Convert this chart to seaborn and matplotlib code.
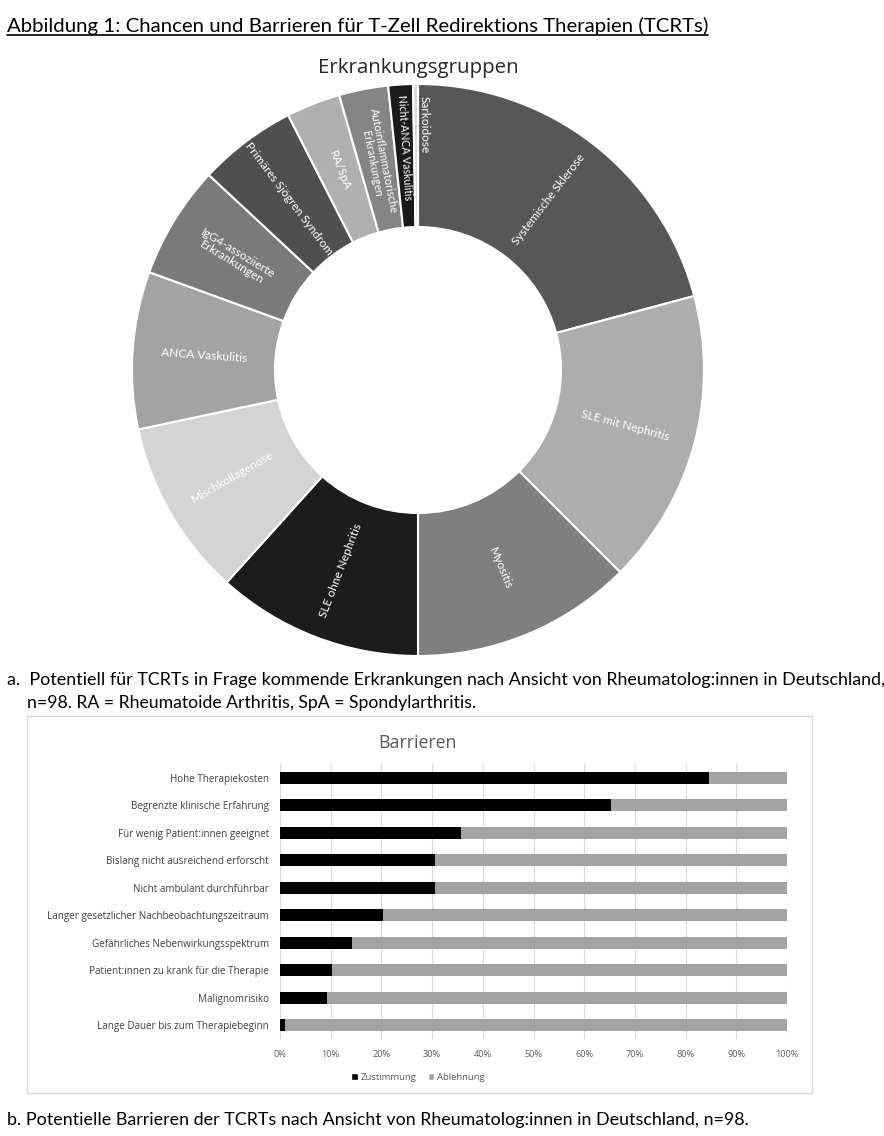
import numpy as np
import pandas as pd
import matplotlib
matplotlib.use("Agg")
import matplotlib.pyplot as plt
import seaborn as sns
from matplotlib.patches import Rectangle, Patch
from matplotlib.lines import Line2D

# ---------------- data ----------------
diseases = ["Systemische Sklerose", "SLE mit Nephritis", "Myositis", "SLE ohne Nephritis",
            "Mischkollagenose", "ANCA Vaskulitis", "IgG4-assoziierte\nErkrankungen",
            "Primäres Sjögren Syndrom", "RA/SpA", "Autoinflammatorische\nErkrankungen",
            "Nicht-ANCA Vaskulitis", "Sarkoidose"]
disease_values = [75, 60, 45, 42, 36, 32, 23, 20, 11, 10, 5, 1]
disease_colors = ["#575757", "#adadad", "#7f7f7f", "#1c1c1c", "#d4d4d4", "#a3a3a3",
                  "#7a7a7a", "#4f4f4f", "#b0b0b0", "#858585", "#1a1a1a", "#d9d9d9"]

barriers = ["Hohe Therapiekosten", "Begrenzte klinische Erfahrung",
            "Für wenig Patient:innen geeignet", "Bislang nicht ausreichend erforscht",
            "Nicht ambulant durchführbar", "Langer gesetzlicher Nachbeobachtungszeitraum",
            "Gefährliches Nebenwirkungsspektrum", "Patient:innen zu krank für die Therapie",
            "Malignomrisiko", "Lange Dauer bis zum Therapiebeginn"]
zustimmung_n = [83, 64, 35, 30, 30, 20, 14, 10, 9, 1]
n_total = 98
xtick_vals = [0, 10, 20, 30, 40, 50, 60, 70, 80, 90, 100]

# ---------------- figure ----------------
W, H = 884, 1136
sns.set_theme(style="white")
plt.rcParams['font.family'] = ['Lato', 'DejaVu Sans']
fig = plt.figure(figsize=(W / 100, H / 100), dpi=100)
fig.patch.set_facecolor("white")
renderer = fig.canvas.get_renderer()


def fx(x):
    return x / W


def fy(y):
    return 1 - y / H


def fit_text(x, y, s, target_w, family, color="black", ha="left", va="baseline", base=12, **kw):
    t = fig.text(fx(x), fy(y), s, fontsize=base, family=family, color=color, ha=ha, va=va, **kw)
    w = t.get_window_extent(renderer).width
    t.set_fontsize(base * target_w / w)
    return t


cap_font = ["Lato", "DejaVu Sans"]
chart_font = ["Open Sans", "DejaVu Sans"]
label_font = ["Lato", "DejaVu Sans"]

# title
t = fit_text(7, 32, "Abbildung 1: Chancen und Barrieren für T-Zell Redirektions Therapien (TCRTs)",
             700, cap_font)
bb = t.get_window_extent(renderer)
fig.add_artist(Line2D([bb.x0 / W, bb.x1 / W], [fy(35), fy(35)], color="black", lw=1.2,
                      transform=fig.transFigure))

# ---------------- donut ----------------
cx, cy, R = 418, 370, 286
ax1 = fig.add_axes([fx(cx - R), fy(cy + R), 2 * R / W, 2 * R / H])
ax1.pie(disease_values, colors=disease_colors, startangle=90, counterclock=False,
        wedgeprops=dict(width=0.5, edgecolor="white", linewidth=1.5), radius=1)
ax1.set_xlim(-1, 1)
ax1.set_ylim(-1, 1)
ax1.set_aspect("equal")
ax1.axis("off")

total = sum(disease_values)
cum = np.cumsum([0] + disease_values)
label_r = {"Nicht-ANCA Vaskulitis": 0.78, "Autoinflammatorische\nErkrankungen": 0.74,
           "Sarkoidose": 0.86}
label_fs = {"Nicht-ANCA Vaskulitis": 7.6, "Autoinflammatorische\nErkrankungen": 7.8}
for i, lab in enumerate(diseases):
    theta = (cum[i] + cum[i + 1]) / 2 / total * 360
    r = label_r.get(lab, 0.75)
    a = 90 - theta
    rot = ((a + 90) % 180) - 90
    if lab == "Sarkoidose":
        a = 90 - 1.4
    x = r * np.cos(np.radians(a))
    y = r * np.sin(np.radians(a))
    ax1.text(x, y, lab, rotation=rot, rotation_mode="anchor", ha="center", va="center",
             color="white", fontsize=label_fs.get(lab, 8.6), family=label_font,
             linespacing=1.05)

fit_text(cx, 73, "Erkrankungsgruppen", 200, chart_font, color="#262626", ha="center")

# captions a
fit_text(7, 685, "a.  Potentiell für TCRTs in Frage kommende Erkrankungen nach Ansicht von "
                 "Rheumatolog:innen in Deutschland,", 877, cap_font)
fit_text(27, 708, "n=98. RA = Rheumatoide Arthritis, SpA = Spondylarthritis.", 447, cap_font)

# ---------------- bar chart ----------------
fig.add_artist(Rectangle((fx(27), fy(1093)), (812 - 27) / W, (1093 - 716) / H,
                         transform=fig.transFigure, fill=False, edgecolor="#d9d9d9", lw=1))
fit_text(418, 748, "Barrieren", 78, chart_font, color="#595959", ha="center")

pct = [v / n_total * 100 for v in zustimmung_n]
ablehnung = [100 - p for p in pct]
df = pd.DataFrame({"Barriere": barriers, "Zustimmung": pct,
                   "Gesamt": [p + q for p, q in zip(pct, ablehnung)]})

ax2 = fig.add_axes([fx(280), fy(1039), (787 - 280) / W, (1039 - 764) / H])
sns.barplot(data=df, y="Barriere", x="Gesamt", color="#a3a3a3", saturation=1, width=0.44,
            orient="h", ax=ax2, linewidth=0)
sns.barplot(data=df, y="Barriere", x="Zustimmung", color="#000000", saturation=1, width=0.44,
            orient="h", ax=ax2, linewidth=0)
ax2.set_xlim(0, 100)
ax2.set_ylim(len(barriers) - 0.5, -0.5)
ax2.set_xticks(xtick_vals)
ax2.set_xticklabels([f"{v}%" for v in xtick_vals], fontsize=6.6, color="#595959",
                    family=chart_font)
ax2.set_yticklabels(barriers, fontsize=7.1, color="#404040", family=chart_font)
ax2.set_xlabel("")
ax2.set_ylabel("")
ax2.xaxis.grid(True, color="#d9d9d9", lw=0.8)
ax2.set_axisbelow(True)
for s in ax2.spines.values():
    s.set_visible(False)
ax2.tick_params(axis="both", length=0)
ax2.tick_params(axis="x", pad=8)
ax2.tick_params(axis="y", pad=8)

handles = [Patch(facecolor="#000000", label="Zustimmung"),
           Patch(facecolor="#a3a3a3", label="Ablehnung")]
leg = fig.legend(handles=handles, loc="center", bbox_to_anchor=(fx(418), fy(1077)), ncol=2,
                 frameon=False, prop={"family": chart_font, "size": 6.8},
                 handlelength=0.7, handleheight=0.7, handletextpad=0.3, columnspacing=1.2)
for tx in leg.get_texts():
    tx.set_color("#595959")

# caption b
fit_text(7, 1125, "b. Potentielle Barrieren der TCRTs nach Ansicht von Rheumatolog:innen in "
                  "Deutschland, n=98.", 738, cap_font)

fig.savefig("out.png", dpi=100, facecolor="white")
